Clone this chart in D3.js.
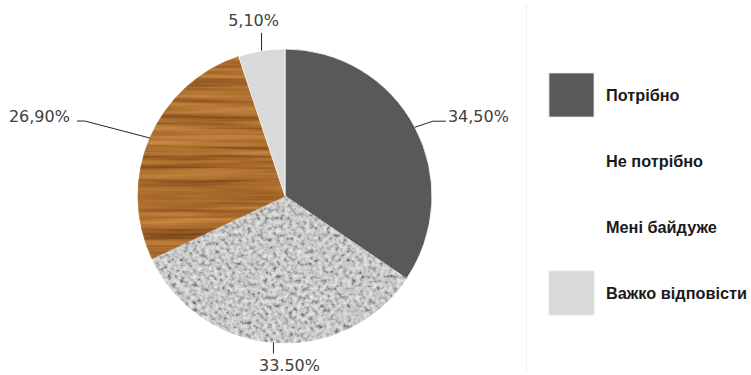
<!DOCTYPE html>
<html><head><meta charset="utf-8">
<script src="https://cdn.jsdelivr.net/npm/d3@7"></script>
<style>html,body{margin:0;padding:0;background:#fff;}svg{display:block;}</style>
</head><body>
<svg id="chart" width="751" height="375"></svg>
<script>
const categories = ["Потрібно", "Не потрібно", "Мені байдуже", "Важко відповісти"];
const values = [34.5, 33.5, 26.9, 5.1];
const valueLabels = ["34,50%", "33.50%", "26,90%", "5,10%"];
const fills = ["#595959", "granite", "wood", "#d9d9d9"];
const legendShown = [true, false, false, true];

const cx = 285, cy = 196, R = 147;
const svg = d3.select("#chart");
const defs = svg.append("defs");

function textureFilter(id, freq, seed, tables) {
  const f = defs.append("filter").attr("id", id)
    .attr("x", "-5%").attr("y", "-5%").attr("width", "110%").attr("height", "110%")
    .attr("color-interpolation-filters", "sRGB");
  f.append("feTurbulence").attr("type", "fractalNoise").attr("baseFrequency", freq)
    .attr("numOctaves", 3).attr("seed", seed).attr("result", "n");
  f.append("feColorMatrix").attr("in", "n").attr("type", "matrix")
    .attr("values", "1 0 0 0 0  1 0 0 0 0  1 0 0 0 0  0 0 0 0 1").attr("result", "g");
  const ct = f.append("feComponentTransfer").attr("in", "g").attr("result", "c");
  ct.append("feFuncR").attr("type", "table").attr("tableValues", tables[0]);
  ct.append("feFuncG").attr("type", "table").attr("tableValues", tables[1]);
  ct.append("feFuncB").attr("type", "table").attr("tableValues", tables[2]);
  f.append("feComposite").attr("in", "c").attr("in2", "SourceGraphic").attr("operator", "in");
}
const gt = "0.22 0.42 0.66 0.79 0.86 0.92 0.96";
textureFilter("granite", 0.24, 7, [gt, gt, gt]);
textureFilter("wood", "0.006 0.2", 3, [
  "0.40 0.52 0.64 0.72 0.78 0.84",
  "0.22 0.30 0.40 0.47 0.53 0.60",
  "0.08 0.11 0.16 0.21 0.27 0.34"
]);

// separator line
svg.append("line").attr("x1", 526.5).attr("x2", 526.5).attr("y1", 4).attr("y2", 371)
  .attr("stroke", "#efefef").attr("stroke-width", 1);

const pie = d3.pie().sort(null).value(d => d)(values);
const arc = d3.arc().innerRadius(0).outerRadius(R);
const g = svg.append("g").attr("transform", `translate(${cx},${cy})`);

g.selectAll("path.slice").data(pie).join("path").attr("class", "slice")
  .attr("d", arc)
  .attr("fill", (d, i) => fills[i].startsWith("#") ? fills[i] : "#999")
  .attr("filter", (d, i) => fills[i].startsWith("#") ? null : `url(#${fills[i]})`)
  .attr("stroke", "#fff").attr("stroke-width", 0.8);

// label layout (leader geometry per label)
const layout = [
  { elbow: [18, -6], tail: 13, anchor: "start", tdx: 2, tdy: -5 },
  { elbow: [0, 11], tail: 0, anchor: "middle", tdx: 16, tdy: 12 },
  { elbow: [-65, -17], tail: -8, anchor: "end", tdx: -7, tdy: -5 },
  { elbow: [0, -18], tail: 0, anchor: "middle", tdx: -8, tdy: -12 }
];
const pt = d => { const a = (d.startAngle + d.endAngle) / 2; return [R * Math.sin(a), -R * Math.cos(a)]; };
const lbl = g.append("g");
pie.forEach((d, i) => {
  const p0 = pt(d), L = layout[i];
  const p1 = [p0[0] + L.elbow[0], p0[1] + L.elbow[1]];
  const p2 = [p1[0] + L.tail, p1[1]];
  lbl.append("polyline").attr("points", [p0, p1, p2].map(p => p.join(",")).join(" "))
    .attr("fill", "none").attr("stroke", "#262626").attr("stroke-width", 1);
  lbl.append("text").attr("x", p2[0] + L.tdx).attr("y", p2[1] + L.tdy)
    .attr("text-anchor", L.anchor).attr("dy", "0.35em")
    .attr("font-family", "DejaVu Sans, Verdana, sans-serif").attr("font-size", 16)
    .attr("fill", "#404040").text(valueLabels[i]);
});

// legend
const ly = d3.scalePoint().domain(categories).range([95, 293]);
const leg = svg.append("g");
categories.forEach((c, i) => {
  if (legendShown[i]) {
    leg.append("rect").attr("x", 549).attr("y", ly(c) - 22).attr("width", 45).attr("height", 44)
      .attr("fill", fills[i]).attr("stroke", "#e6e6e6").attr("stroke-width", 0.8);
  }
  leg.append("text").attr("x", 606).attr("y", ly(c)).attr("dy", "0.35em")
    .attr("font-family", "Liberation Sans, Arial, sans-serif").attr("font-weight", "bold")
    .attr("font-size", 16.3).attr("fill", "#1a1a1a").text(c);
});
</script>
</body></html>
